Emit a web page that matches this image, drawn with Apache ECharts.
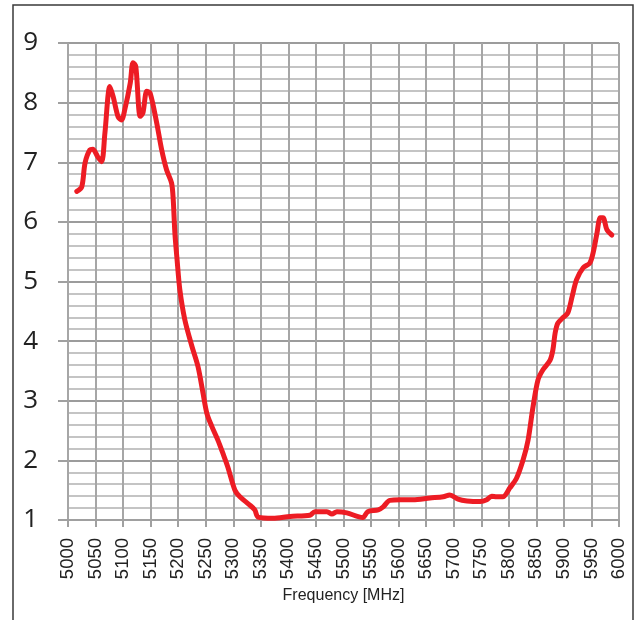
<!DOCTYPE html>
<html>
<head>
<meta charset="utf-8">
<script src="https://cdn.jsdelivr.net/npm/echarts@6/dist/echarts.min.js"></script>
<style>html,body{margin:0;padding:0;background:#fff}#c{width:637px;height:620px}</style>
</head>
<body>
<div id="c"></div>
<script>
var freqs = [5016,5025,5031,5040,5045,5054,5061,5067,5076,5082,5091,5097,5103,5113,5118,5123,5131,5136,5143,5149,5161,5170,5179,5188,5191,5194,5198,5203,5212,5225,5236,5245,5252,5261,5272,5281,5290,5303,5312,5330,5339,5345,5372,5403,5439,5448,5470,5479,5488,5506,5535,5544,5563,5572,5584,5603,5626,5657,5681,5693,5708,5724,5748,5760,5769,5778,5789,5802,5814,5826,5835,5844,5853,5862,5875,5880,5884,5889,5898,5907,5915,5923,5935,5947,5953,5960,5966,5971,5978,5987];
var values = [6.51,6.59,6.99,7.21,7.22,7.09,7.01,7.49,8.27,8.10,7.76,7.71,7.88,8.33,8.67,8.61,7.77,7.83,8.19,8.16,7.66,7.21,6.87,6.65,6.37,5.81,5.36,4.86,4.36,3.91,3.57,3.13,2.79,2.57,2.34,2.12,1.89,1.50,1.39,1.25,1.17,1.05,1.03,1.06,1.08,1.14,1.14,1.10,1.14,1.12,1.04,1.14,1.17,1.22,1.33,1.34,1.34,1.37,1.39,1.42,1.35,1.32,1.31,1.34,1.40,1.39,1.39,1.54,1.70,2.01,2.34,2.90,3.35,3.52,3.68,3.85,4.13,4.30,4.39,4.47,4.75,5.03,5.23,5.31,5.48,5.81,6.07,6.07,5.87,5.78];
var xAxisName = 'Frequency [MHz]';
var xMin = 5000, xMax = 6000, xStep = 50;
var yMin = 1, yMax = 9, yStep = 1;

var data = freqs.map(function (f, i) { return [f, values[i]]; });
var chart = echarts.init(document.getElementById('c'), null, {renderer: 'canvas'});
chart.setOption({
  animation: false,
  backgroundColor: '#fff',
  graphic: [{
    type: 'rect', silent: true, z: 0,
    shape: {x: 13, y: 5, width: 620, height: 640},
    style: {fill: 'none', stroke: '#3a3a3a', lineWidth: 1.5}
  }],
  grid: {left: 68, right: 18, top: 43, bottom: 100, containLabel: false},
  xAxis: {
    type: 'value', min: xMin, max: xMax, interval: xStep,
    name: xAxisName, nameLocation: 'middle', nameGap: 68,
    nameTextStyle: {fontFamily: 'Liberation Sans', fontSize: 16, color: '#222'},
    axisLine: {show: true, lineStyle: {color: '#a0a0a0', width: 2}},
    axisTick: {show: true, length: 7, lineStyle: {color: '#a0a0a0', width: 2}},
    axisLabel: {rotate: 90, margin: 18, fontFamily: 'Liberation Sans', fontSize: 18.5, color: '#222',
      formatter: function (v) { return String(v); }},
    splitLine: {show: true, lineStyle: {color: '#a6a6a6', width: 2}}
  },
  yAxis: {
    type: 'value', min: yMin, max: yMax, interval: yStep,
    axisLine: {show: false},
    axisTick: {show: true, length: 10, lineStyle: {color: '#a0a0a0', width: 2}},
    axisLabel: {margin: 30, fontFamily: 'Open Sans', fontSize: 26, color: '#222'},
    splitLine: {show: true, lineStyle: {color: '#9c9c9c', width: 2}},
    minorTick: {show: false, splitNumber: 5},
    minorSplitLine: {show: true, lineStyle: {color: '#c4c4c4', width: 2}}
  },
  series: [{
    type: 'line', data: data, smooth: 0.3, symbol: 'none',
    lineStyle: {color: '#ed1c24', width: 5, cap: 'round', join: 'round'},
    z: 5
  }]
});
</script>
</body>
</html>
